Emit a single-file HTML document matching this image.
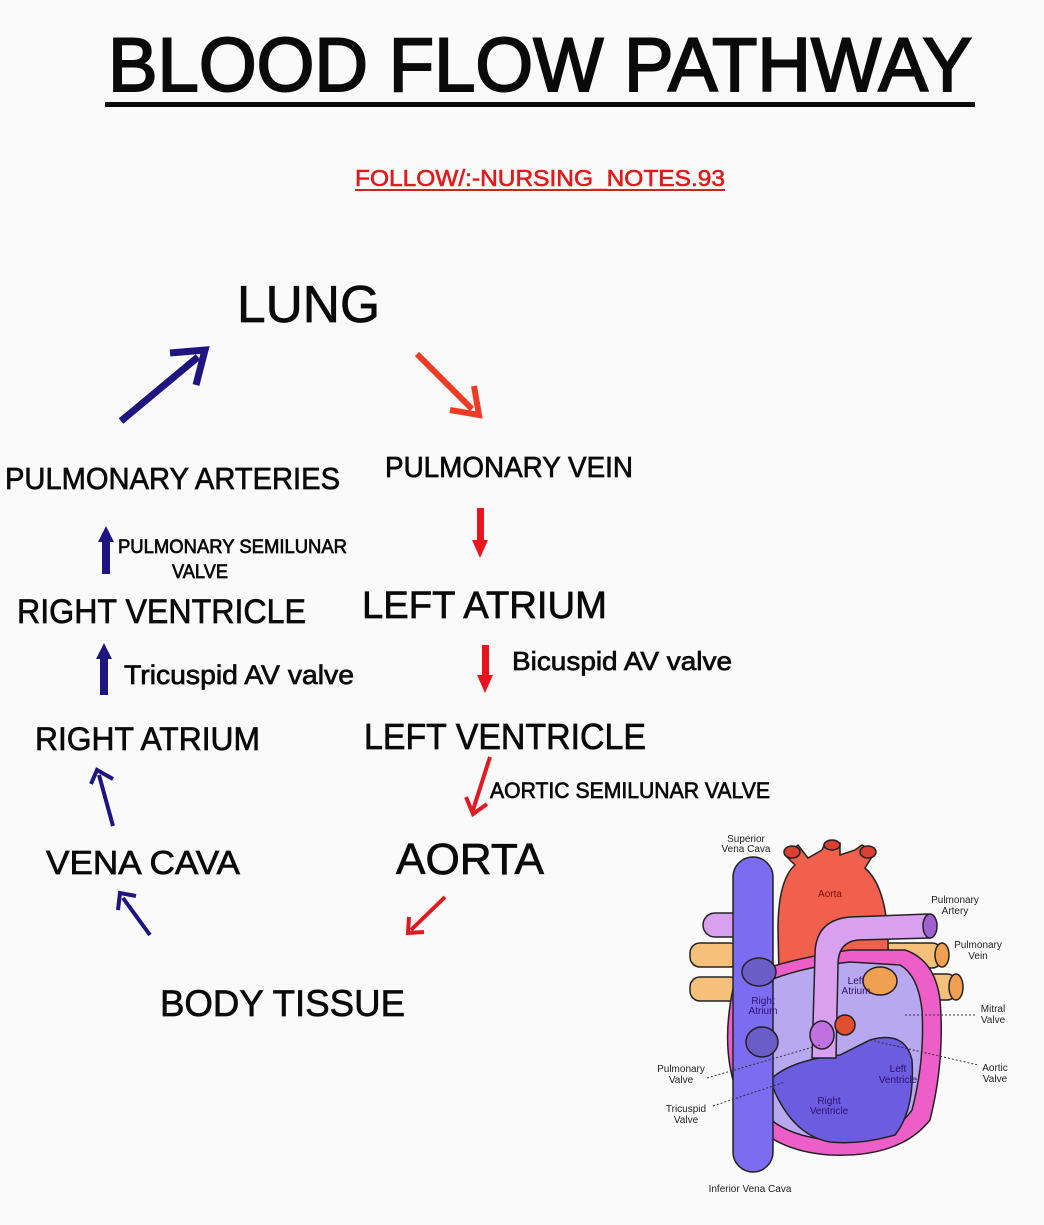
<!DOCTYPE html>
<html><head><meta charset="utf-8"><style>
html,body{margin:0;padding:0;background:#fafafa;}
svg{display:block;}
text{font-family:"Liberation Sans",Arial,sans-serif;fill:#0a0a0a;}
.b{stroke:#0a0a0a;stroke-width:0.7;}
.h{font-size:10px;fill:#222;}
</style></head><body>
<svg width="1044" height="1225" viewBox="0 0 1044 1225" xmlns="http://www.w3.org/2000/svg">
<rect width="1044" height="1225" fill="#fafafa"/>
<text x="108" y="91" font-size="76" style="stroke:#0a0a0a;stroke-width:2" textLength="864" lengthAdjust="spacingAndGlyphs">BLOOD FLOW PATHWAY</text>
<rect x="105" y="102" width="870" height="5" fill="#0a0a0a"/>
<text x="355" y="186" font-size="23" style="fill:#e01b1b;stroke:#e01b1b;stroke-width:0.6" textLength="370" lengthAdjust="spacingAndGlyphs">FOLLOW/:-NURSING_NOTES.93</text>
<rect x="355" y="189" width="370" height="2" fill="#e01b1b"/>

<text class="b" x="237" y="322" font-size="52" textLength="143" lengthAdjust="spacingAndGlyphs">LUNG</text>
<text class="b" x="5" y="489" font-size="31" textLength="335" lengthAdjust="spacingAndGlyphs">PULMONARY ARTERIES</text>
<text class="b" x="385" y="477" font-size="29" textLength="248" lengthAdjust="spacingAndGlyphs">PULMONARY VEIN</text>
<text class="b" x="118" y="553" font-size="19" textLength="229" lengthAdjust="spacingAndGlyphs">PULMONARY SEMILUNAR</text>
<text class="b" x="172" y="578" font-size="19" textLength="56" lengthAdjust="spacingAndGlyphs">VALVE</text>
<text class="b" x="17" y="623" font-size="34" textLength="289" lengthAdjust="spacingAndGlyphs">RIGHT VENTRICLE</text>
<text class="b" x="362" y="618" font-size="38" textLength="245" lengthAdjust="spacingAndGlyphs">LEFT ATRIUM</text>
<text class="b" x="124" y="684" font-size="27" textLength="230" lengthAdjust="spacingAndGlyphs">Tricuspid AV valve</text>
<text class="b" x="512" y="670" font-size="26" textLength="220" lengthAdjust="spacingAndGlyphs">Bicuspid AV valve</text>
<text class="b" x="35" y="750" font-size="32" textLength="225" lengthAdjust="spacingAndGlyphs">RIGHT ATRIUM</text>
<text class="b" x="364" y="749" font-size="36" textLength="282" lengthAdjust="spacingAndGlyphs">LEFT VENTRICLE</text>
<text class="b" x="490" y="798" font-size="22" textLength="280" lengthAdjust="spacingAndGlyphs">AORTIC SEMILUNAR VALVE</text>
<text class="b" x="46" y="874" font-size="33" textLength="194" lengthAdjust="spacingAndGlyphs">VENA CAVA</text>
<text class="b" x="396" y="874" font-size="44" textLength="148" lengthAdjust="spacingAndGlyphs">AORTA</text>
<text class="b" x="160" y="1016" font-size="37" textLength="245" lengthAdjust="spacingAndGlyphs">BODY TISSUE</text>

<g stroke="#1e1580" fill="none" stroke-linecap="butt">
<line x1="121" y1="421" x2="198" y2="357" stroke-width="7"/>
<polyline points="170,353 205,350 196,385" stroke-width="7" stroke-linejoin="miter"/>
<line x1="113" y1="826" x2="99" y2="775" stroke-width="4"/>
<polyline points="91,784 97,770 113,779" stroke-width="4"/>
<line x1="150" y1="935" x2="123" y2="898" stroke-width="4"/>
<polyline points="118,910 120,893 136,896" stroke-width="4"/>
</g>
<g fill="#1e1580">
<rect x="102" y="540" width="8" height="34"/><polygon points="98,542 106,526 114,542"/>
<rect x="100" y="657" width="8" height="38"/><polygon points="96,659 104,643 112,659"/>
</g>
<g stroke="#f03a24" fill="none">
<line x1="417" y1="354" x2="472" y2="409" stroke-width="6"/>
<polyline points="450,410 479,415 474,386" stroke-width="6"/>
</g>
<g fill="#e8161c">
<rect x="477" y="508" width="7" height="34"/><polygon points="472,540 480,558 488,540"/>
<rect x="482" y="645" width="7" height="32"/><polygon points="477,675 485,693 493,675"/>
</g>
<g stroke="#e01a22" fill="none" stroke-width="4">
<line x1="490" y1="757" x2="473" y2="810"/>
<polyline points="466,797 473,814 487,804"/>
<line x1="445" y1="897" x2="411" y2="930"/>
<polyline points="409,917 408,933 424,932"/>
</g>

<g stroke="#222" stroke-width="1.5">
<rect x="703" y="913" width="45" height="24" rx="12" fill="#d9a0f0"/>
<rect x="690" y="943" width="50" height="24" rx="10" fill="#f5c07a"/>
<rect x="690" y="977" width="50" height="24" rx="10" fill="#f5c07a"/>
<rect x="880" y="943" width="62" height="25" rx="10" fill="#f5c07a"/>
<ellipse cx="942" cy="955" rx="7" ry="12" fill="#f0a050"/>
<rect x="895" y="974" width="62" height="26" rx="10" fill="#f5c07a"/>
<ellipse cx="956" cy="987" rx="7" ry="13" fill="#f0a050"/>
<path d="M795,865 L785,855 L798,845 L808,858 L822,850 L825,843 L840,843 L840,855 L855,850 L862,845 L875,852 L865,868 Q890,890 888,960 L885,1020 L780,1020 L778,930 Q778,880 795,865 Z" fill="#f0604c"/>
<ellipse cx="792" cy="852" rx="8" ry="6" fill="#d84030"/>
<ellipse cx="832" cy="845" rx="8" ry="5" fill="#d84030"/>
<ellipse cx="868" cy="852" rx="8" ry="6" fill="#d84030"/>
<path d="M735,980 Q718,1050 740,1100 Q760,1150 830,1155 Q900,1158 930,1120 Q945,1060 940,1000 Q935,960 905,950 L850,950 Q780,960 735,980 Z" fill="#ee5ec8"/>
<path d="M748,990 Q732,1050 752,1095 Q770,1135 830,1140 Q890,1142 912,1110 Q925,1060 922,1010 Q918,975 900,965 L850,962 Q790,968 748,990 Z" fill="#b8a8f0"/>
<path d="M770,1080 Q790,1060 840,1055 L870,1040 Q905,1030 912,1060 Q915,1110 895,1135 Q860,1145 830,1142 Q790,1135 770,1080 Z" fill="#6b5ce0"/>
<rect x="733" y="857" width="40" height="315" rx="20" fill="#7b6cf2"/>
<ellipse cx="759" cy="972" rx="17" ry="14" fill="#6b5cc8"/>
<ellipse cx="762" cy="1042" rx="16" ry="15" fill="#6b5cc8"/>
<path d="M812,1058 L815,955 Q815,920 850,917 L928,914 L930,938 L858,940 Q838,942 838,965 L836,1058 Z" fill="#d9a0f0"/>
<ellipse cx="930" cy="926" rx="7" ry="12" fill="#a060d0"/>
<ellipse cx="880" cy="981" rx="17" ry="14" fill="#f0a050"/>
<ellipse cx="822" cy="1035" rx="12" ry="14" fill="#c070e0"/>
<ellipse cx="845" cy="1025" rx="10" ry="10" fill="#e05030"/>
</g>
<g font-family="Liberation Sans,sans-serif">
<text class="h" x="746" y="842" text-anchor="middle">Superior</text>
<text class="h" x="746" y="852" text-anchor="middle">Vena Cava</text>
<text class="h" x="830" y="897" text-anchor="middle" style="fill:#7a1010">Aorta</text>
<text class="h" x="955" y="903" text-anchor="middle">Pulmonary</text>
<text class="h" x="955" y="914" text-anchor="middle">Artery</text>
<text class="h" x="978" y="948" text-anchor="middle">Pulmonary</text>
<text class="h" x="978" y="959" text-anchor="middle">Vein</text>
<text class="h" x="856" y="984" text-anchor="middle" style="fill:#301070">Left</text>
<text class="h" x="856" y="994" text-anchor="middle" style="fill:#301070">Atrium</text>
<text class="h" x="763" y="1004" text-anchor="middle" style="fill:#301070">Right</text>
<text class="h" x="763" y="1014" text-anchor="middle" style="fill:#301070">Atrium</text>
<text class="h" x="993" y="1012" text-anchor="middle">Mitral</text>
<text class="h" x="993" y="1023" text-anchor="middle">Valve</text>
<text class="h" x="995" y="1071" text-anchor="middle">Aortic</text>
<text class="h" x="995" y="1082" text-anchor="middle">Valve</text>
<text class="h" x="681" y="1072" text-anchor="middle">Pulmonary</text>
<text class="h" x="681" y="1083" text-anchor="middle">Valve</text>
<text class="h" x="898" y="1072" text-anchor="middle" style="fill:#301070">Left</text>
<text class="h" x="898" y="1083" text-anchor="middle" style="fill:#301070">Ventricle</text>
<text class="h" x="829" y="1104" text-anchor="middle" style="fill:#301070">Right</text>
<text class="h" x="829" y="1114" text-anchor="middle" style="fill:#301070">Ventricle</text>
<text class="h" x="686" y="1112" text-anchor="middle">Tricuspid</text>
<text class="h" x="686" y="1123" text-anchor="middle">Valve</text>
<text class="h" x="750" y="1192" text-anchor="middle">Inferior Vena Cava</text>
</g>
<g stroke="#333" stroke-dasharray="2,2" stroke-width="1">
<line x1="905" y1="1015" x2="975" y2="1015"/>
<line x1="870" y1="1040" x2="978" y2="1065"/>
<line x1="707" y1="1078" x2="820" y2="1045"/>
<line x1="713" y1="1106" x2="785" y2="1082"/>
</g>
</svg>
</body></html>
